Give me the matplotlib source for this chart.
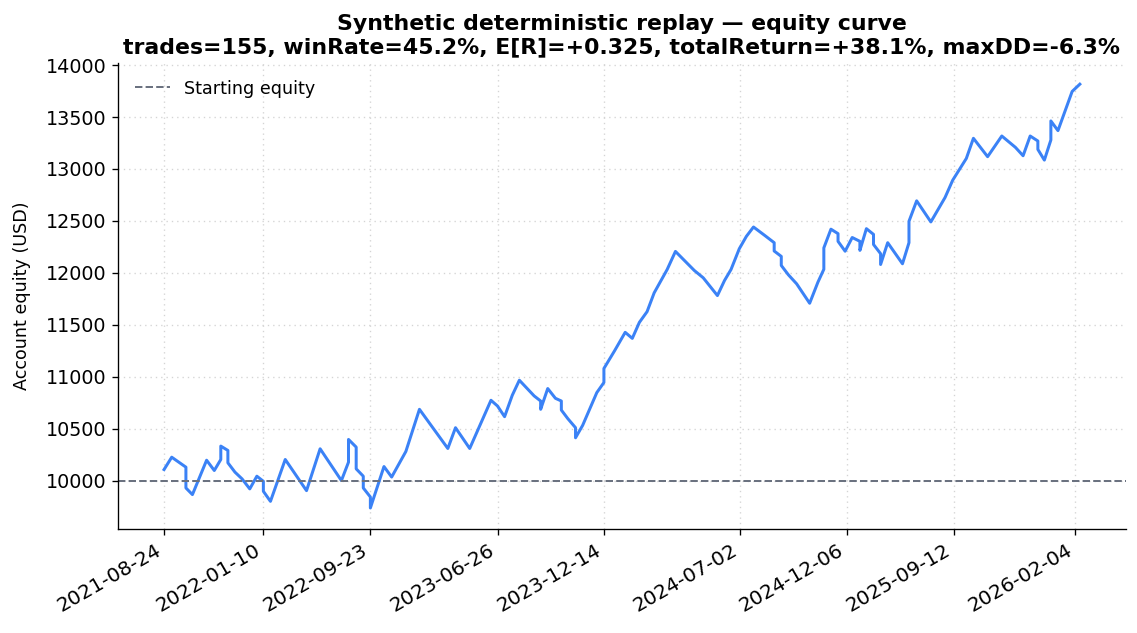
import matplotlib
matplotlib.use("Agg")
import matplotlib.pyplot as plt

# trade timeline position (roughly trade index) and equity after each step
t = [0.0, 1.3, 3.7, 3.7, 4.8, 7.2, 8.5, 9.6, 9.6, 10.8, 10.8, 12.0, 13.2,
     14.5, 15.7, 16.8, 16.8, 18.0, 20.5, 24.1, 26.4, 30.0, 31.2, 31.2, 32.5,
     32.5, 33.7, 33.7, 34.9, 34.9, 37.2, 38.5, 40.9, 43.2, 48.0, 49.3, 51.7,
     55.3, 56.4, 57.6, 58.9, 60.1, 62.6, 63.7, 63.7, 64.9, 66.2, 67.2, 67.2,
     68.3, 69.6, 69.6, 70.8, 73.2, 74.4, 74.4, 76.2, 78.0, 79.2, 80.4, 81.7,
     82.9, 85.1, 86.5, 89.7, 91.2, 93.6, 94.8, 95.9, 97.3, 98.5, 99.7, 101.6,
     103.2, 103.2, 104.4, 104.4, 105.6, 107.0, 109.2, 110.6, 111.6, 111.6,
     112.8, 114.0, 114.0, 115.2, 116.4, 117.7, 117.7, 118.8, 120.0, 120.0,
     121.2, 121.2, 122.4, 124.9, 126.0, 126.0, 127.3, 129.7, 132.1, 133.4,
     135.7, 136.9, 139.3, 141.7, 144.0, 145.3, 146.5, 147.8, 147.8, 148.9,
     150.0, 150.0, 151.2, 153.6, 154.9]
equity = [10106, 10225, 10129, 9929, 9865, 10196, 10097, 10203, 10332, 10290,
          10171, 10081, 10016, 9920, 10042, 9993, 9897, 9800, 10203, 9903,
          10306, 10000, 10177, 10396, 10322, 10113, 10042, 9929, 9842, 9736,
          10135, 10034, 10280, 10686, 10309, 10509, 10309, 10773, 10718, 10615,
          10821, 10966, 10815, 10766, 10686, 10886, 10792, 10766, 10679, 10596,
          10509, 10412, 10531, 10847, 10944, 11079, 11249, 11427, 11369, 11523,
          11626, 11807, 12032, 12206, 12022, 11952, 11781, 11926, 12032, 12232,
          12351, 12441, 12360, 12290, 12210, 12158, 12071, 11981, 11894, 11707,
          11910, 12034, 12240, 12420, 12377, 12303, 12208, 12340, 12303, 12216,
          12425, 12370, 12273, 12184, 12080, 12290, 12087, 12290, 12496, 12693,
          12490, 12725, 12892, 13101, 13295, 13118, 13317, 13208, 13127, 13317,
          13269, 13188, 13085, 13279, 13462, 13369, 13746, 13816]

start_equity = 10000
tick_pos = [0.0, 16.8, 34.9, 56.5, 74.5, 97.5, 115.5, 133.6, 154.1]
tick_labels = ["2021-08-24", "2022-01-10", "2022-09-23", "2023-06-26",
               "2023-12-14", "2024-07-02", "2024-12-06", "2025-09-12",
               "2026-02-04"]

fig, ax = plt.subplots(figsize=(9.475, 5.275), dpi=120)

ax.plot(t, equity, color="#3b82f6", lw=1.8)
ax.axhline(start_equity, color="#6b7280", ls="--", lw=1.2,
           label="Starting equity")

ax.set_xticks(tick_pos)
ax.set_xticklabels(tick_labels, rotation=30, ha="right")
ax.tick_params(axis="x", labelsize=12)
ax.tick_params(axis="y", labelsize=11.5)
ax.set_ylabel("Account equity (USD)", fontsize=10.5, labelpad=9)
ax.set_title("Synthetic deterministic replay — equity curve\n"
             "trades=155, winRate=45.2%, E[R]=+0.325, totalReturn=+38.1%, maxDD=-6.3%",
             fontsize=13.2, fontweight="bold", pad=6)
ax.grid(True, ls=(0, (1, 3)), color="#d4d4d4", lw=0.8)
ax.spines["top"].set_visible(False)
ax.spines["right"].set_visible(False)
ax.legend(loc="upper left", frameon=False, fontsize=10.5, borderaxespad=0.55)

fig.subplots_adjust(left=0.104, right=0.99, top=0.9005, bottom=0.164)
fig.savefig("out.png")
